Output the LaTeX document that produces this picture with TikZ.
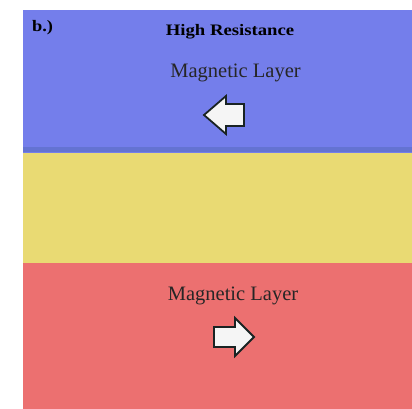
\documentclass[tikz,border=0pt]{standalone}
\usepackage{fontspec}
\setmainfont{Liberation Serif}
\usepackage{graphicx}
\definecolor{layblue}{RGB}{116,126,235}
\definecolor{layblueedge}{RGB}{100,115,210}
\definecolor{layyellow}{RGB}{233,218,115}
\definecolor{layred}{RGB}{236,112,112}
\definecolor{arrowline}{RGB}{25,35,35}
\definecolor{arrowfill}{RGB}{245,245,245}
\tikzset{
  labeltext/.style={inner sep=0pt, text=black!85, font=\fontsize{20.5}{24}\selectfont},
  titletext/.style={inner sep=0pt, text=black, font=\bfseries\fontsize{16}{19}\selectfont},
  magarrow/.style={draw=arrowline, fill=arrowfill, line width=1.8pt, line join=miter}
}
\begin{document}
\begin{tikzpicture}[x=1pt,y=-1pt]
\useasboundingbox (0,0) rectangle (412,409);
% layers
\fill[layblue] (23,10) rectangle (412,153);
\fill[layblueedge] (23,147) rectangle (412,152);
\fill[layyellow] (23,153) rectangle (412,263);
\fill[layred] (23,263) rectangle (412,409);
% texts
\node[titletext] (lbl) at (42.5,28) {\scalebox{1.15}[1]{b.)}};
\node[titletext] (title) at (230,31.5) {\scalebox{1.17}[1]{High Resistance}};
\node[labeltext] (top) at (235.5,73) {Magnetic Layer};
\node[labeltext] (bot) at (233,296) {Magnetic Layer};
% top arrow (pointing left)
\draw[magarrow] (204,115) -- (226,96) -- (226,104) -- (244,104) -- (244,126) -- (226,126) -- (226,134) -- cycle;
% bottom arrow (pointing right)
\draw[magarrow] (254,337) -- (235,318) -- (235,327) -- (214,327) -- (214,347) -- (235,347) -- (235,356) -- cycle;
\end{tikzpicture}
\end{document}
